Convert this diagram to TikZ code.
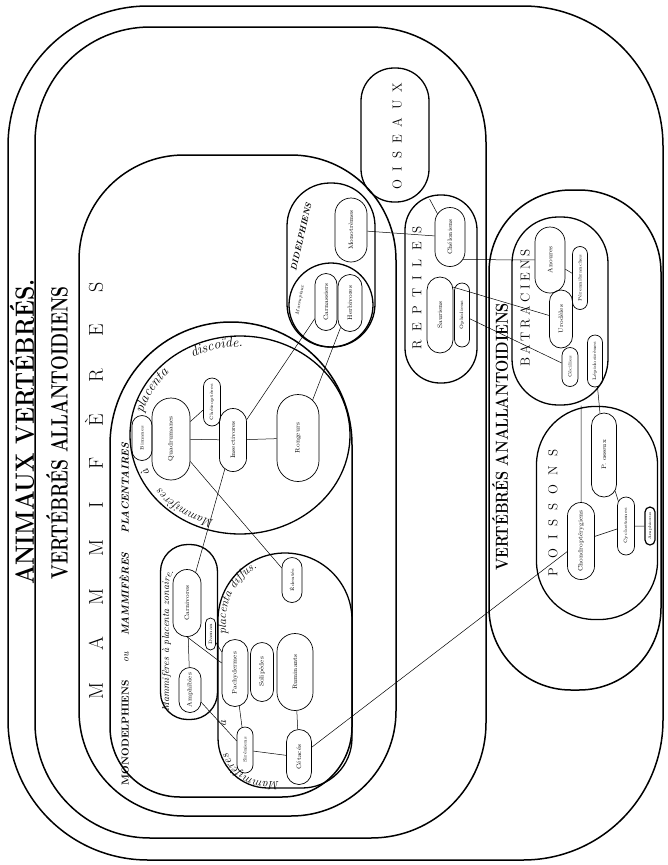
\documentclass[tikz,border=0pt]{standalone}
\usepackage{fontspec}
\usepackage{tikz}
\usetikzlibrary{shapes.geometric,shapes.misc,decorations.text}
\newcommand{\spaced}[2]{\makebox[#1][s]{#2}}
\newcommand{\tallcaps}[2]{\scalebox{1}[#1]{#2}}

\begin{document}
\begin{tikzpicture}[x=1pt,y=-1pt,
    frame/.style={draw,line width=1.5pt,inner sep=0pt},
    groupbox/.style={draw,line width=1.3pt,inner sep=0pt},
    taxon/.style={draw,line width=0.7pt,rounded rectangle,rotate=90,
      inner sep=0pt,font=\fontsize{6.5}{7}\selectfont},
    smalltaxon/.style={taxon,font=\fontsize{4.8}{5}\selectfont},
    link/.style={line width=0.5pt},
    heading/.style={rotate=90,inner sep=0pt},
    letterlabel/.style={rotate=90,inner sep=0pt,font=\fontsize{13}{13}\selectfont},
    arclabel/.style={decorate,decoration={text along path,text align=center,text={#1}}}]
  \useasboundingbox (0,0) rectangle (668,865);
  % nested frames
  \node[frame,minimum width=655pt,minimum height=854pt,rounded corners=140pt] (animaux) at (335.5,433) {};
  \node[frame,minimum width=451pt,minimum height=811pt,rounded corners=115pt] (allantoidiens) at (260.5,432.5) {};
  \node[frame,minimum width=317pt,minimum height=661pt,rounded corners=105pt] (mammiferes) at (237.5,485.5) {};
  \node[frame,minimum width=172pt,minimum height=500pt,rounded corners=82pt] (anallantoidiens) at (575,440) {};
  \draw[line width=1.5pt] (110,445) arc[start angle=180,end angle=360,x radius=121,y radius=123]
    -- (352,727) arc[start angle=0,end angle=90,radius=70]
    -- (180,797) arc[start angle=90,end angle=180,radius=70] -- cycle;
  \node[heading,font=\fontsize{23}{23}\selectfont\bfseries] (animauxtitle) at (22,432)
    {\tallcaps{1.15}{ANIMAUX VERTÉBRÉS.}};
  \node[heading,font=\fontsize{17.5}{18}\selectfont\bfseries] (allantoidienstitle) at (57,433)
    {\tallcaps{1.35}{VERTÉBRÉS ALLANTOIDIENS}};
  \node[heading,font=\fontsize{14.5}{15}\selectfont\bfseries] (anallantoidienstitle) at (500,437)
    {\tallcaps{1.2}{VERTÉBRÉS ANALLANTOIDIENS}};
  \node[heading,font=\fontsize{20}{20}\selectfont] (mammiferestitle) at (94,491)
    {\spaced{417pt}{M A M M I F È R E S}};
  \node[heading,font=\fontsize{10}{10}\selectfont] (monodelphienstitle) at (124,614)
    {\spaced{342pt}{\bfseries MONODELPHIENS \itshape\mdseries ou \bfseries MAMMIFÈRES PLACENTAIRES}};
  % placental groups
  \node[draw,line width=1.3pt,ellipse,minimum width=220pt,minimum height=198pt,inner sep=0pt] (discoide) at (240,435) {};
  \draw[line width=1.3pt] (218,620) arc[start angle=180,end angle=360,radius=67]
    -- (352,738) arc[start angle=0,end angle=90,radius=50]
    -- (268,788) arc[start angle=90,end angle=180,radius=50] -- cycle;
  \node[groupbox,minimum width=57pt,minimum height=175pt,rounded corners=27pt] (zonaire) at (189,632) {};
  \path[arclabel={|\fontsize{12}{12}\selectfont\itshape|Mammifères}]
    (222.6,521.7) arc[start angle=100,end angle=148,x radius=100,y radius=88];
  \path[arclabel={|\fontsize{12}{12}\selectfont\itshape|à}]
    (153.4,479.0) arc[start angle=150,end angle=162,x radius=100,y radius=88];
  \path[arclabel={|\fontsize{14}{14}\selectfont\itshape|placenta}]
    (140.4,427.3) arc[start angle=185,end angle=233,x radius=100,y radius=88];
  \path[arclabel={|\fontsize{14}{14}\selectfont\itshape|discoïde.}]
    (179.8,364.7) arc[start angle=233,end angle=280,x radius=100,y radius=88];
  \path[arclabel={|\fontsize{12}{12}\selectfont\itshape|Mammifères}]
    (292,781) -- (266,781) arc[start angle=90,end angle=180,radius=40];
  \path[arclabel={|\fontsize{12}{12}\selectfont\itshape|à}]
    (226,735) -- (226,712);
  \path[arclabel={|\fontsize{12}{12}\selectfont\itshape|placenta diffus.}]
    (226,655) -- (226,620) arc[start angle=180,end angle=262,radius=59];
  \path[arclabel={|\fontsize{10}{10}\selectfont\itshape|Mammifères à placenta zonaire.}]
    (169,718) -- (169,585) arc[start angle=180,end angle=240,radius=20];
  % didelphiens
  \node[groupbox,minimum width=88pt,minimum height=164pt,rounded corners=43pt] (didelphiens) at (331,265) {};
  \node[draw,line width=1.3pt,circle,minimum size=84pt,inner sep=0pt] (marsupiaux) at (331,305) {};
  \node[rotate=77,inner sep=0pt,font=\fontsize{8.5}{8.5}\selectfont\bfseries\itshape] (didelphienslabel) at (301,237) {DIDELPHIENS};
  \node[rotate=80,inner sep=0pt,font=\fontsize{5}{5}\selectfont\itshape] (marsupiauxlabel) at (300,300) {Marsupiaux};
  % oiseaux, reptiles, batraciens, poissons
  \node[groupbox,minimum width=68pt,minimum height=134pt,rounded corners=33pt] (oiseaux) at (395,135) {};
  \node[groupbox,minimum width=72pt,minimum height=188pt,rounded corners=35pt] (reptiles) at (441,289) {};
  \node[groupbox,minimum width=96pt,minimum height=188pt,rounded corners=46pt] (batraciens) at (560,311) {};
  \node[groupbox,minimum width=121pt,minimum height=213pt,rounded corners=58pt] (poissons) at (597,513) {};
  \node[letterlabel] (oiseauxlabel) at (397,136) {\spaced{107pt}{O I S E A U X}};
  \node[letterlabel] (reptileslabel) at (417,288) {\spaced{123pt}{R E P T I L E S}};
  \node[letterlabel] (batracienslabel) at (525,308) {\spaced{117pt}{B A T R A C I E N S}};
  \node[letterlabel] (poissonslabel) at (553,513) {\spaced{127pt}{P O I S S O N S}};
  % orders
  \foreach \id/\x/\y/\len/\thick/\txt in {
      quadrumanes/171/439/82/38/Quadrumanes, insectivores/233/440/63/27/Insectivores,
      rongeurs/298/438/87/42/Rongeurs, monotremes/351/230/64/32/Monotrèmes,
      carnassiers/326/302/57/22/Carnassiers, herbivores/350/303/57/24/Herbivores,
      carnivores/187/603/67/28/Carnivores, amphibies/190/690/45/22/Amphibies,
      pachydermes/235/673/67/26/Pachydermes, solipedes/262/672/59/23/Solipèdes,
      ruminants/295/672/77/36/Ruminants, cetaces/299/757/55/25/Cétacés,
      cheloniens/450/237/59/30/Chéloniens, sauriens/440/315/76/26/Sauriens,
      anoures/550/260/66/30/Anoures, urodeles/561/319/58/23/Urodèles,
      osseux/604/455/84/25/P.\ osseux, chondropterygiens/581/541/77/27/Chondroptérygiens}
    \node[taxon,minimum width=\len,minimum height=\thick] (\id) at (\x,\y) {\txt};
  \foreach \id/\x/\y/\len/\thick/\txt in {
      bimanes/142/438/45/20/Bimanes, cheiropteres/212/402/48/17/Chéiroptères,
      daman/210.5/634/32/10/Daman, edentes/292/580/45/20/Édentés,
      sireniens/245/750/46/16/Siréniens, ophidiens/462/315/64/15/Ophidiens,
      perennibranches/580/278/63/15/Pérennibranches, cecilies/570/367/39/16/Cécilies,
      lepidosirenes/595/361/52/15/Lépidosirènes, cyclostomes/626/526/58/17/Cyclostomes}
    \node[smalltaxon,minimum width=\len,minimum height=\thick] (\id) at (\x,\y) {\txt};
  \node[smalltaxon,line width=1.2pt,minimum width=38,minimum height=10,font=\fontsize{4}{4}\selectfont] (amphioxus) at (650,526) {Amphioxus};
  % affinities
  \foreach \a/\b in {quadrumanes/insectivores, insectivores/rongeurs, quadrumanes/cheiropteres,
      quadrumanes/edentes, insectivores/carnivores, insectivores/carnassiers, rongeurs/herbivores,
      carnivores/amphibies, daman/pachydermes, amphibies/sireniens, pachydermes/sireniens,
      ruminants/cetaces, sireniens/cetaces, cetaces/chondropterygiens, monotremes/cheloniens,
      oiseaux/cheloniens, anoures/perennibranches, ophidiens/cecilies, lepidosirenes/osseux,
      osseux/cyclostomes, cyclostomes/chondropterygiens, cyclostomes/amphioxus}
    \draw[link] (\a) -- (\b);
  \draw[link] (carnivores.west) -- (pachydermes);
  \draw[link] (cheloniens.-150) -- (anoures);
  \draw[link] (sauriens.-25) -- (urodeles);
  \draw[link] (chondropterygiens |- batraciens.south) -- (chondropterygiens);
\end{tikzpicture}
\end{document}
